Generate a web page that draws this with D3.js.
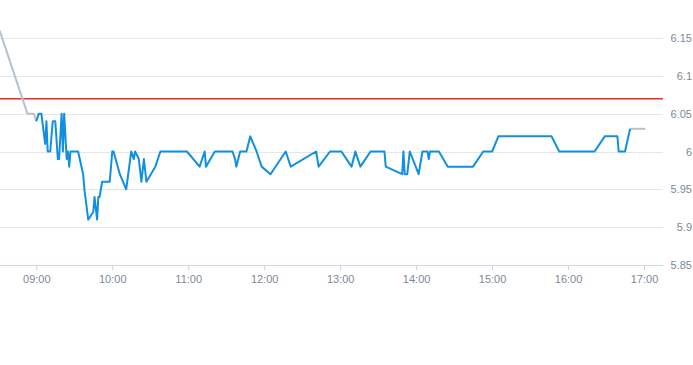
<!DOCTYPE html>
<html>
<head>
<meta charset="utf-8">
<script src="https://cdn.jsdelivr.net/npm/d3@7"></script>
<style>
  body { margin: 0; background: #fff; }
  #chart { width: 693px; height: 365px; }
  text { font-family: "Liberation Sans", Arial, sans-serif; }
</style>
</head>
<body>
<div id="chart"></div>
<script>
// pre-market (grey) segment
const preTimes = ['08:31', '08:53', '08:58', '09:00'];
const preValues = [6.16, 6.05, 6.05, 6.04];

// trading session (blue)
const mainTimes = [
    '09:00', '09:02', '09:04', '09:07', '09:08', '09:09', '09:11', '09:13', '09:15', '09:17',
    '09:18', '09:20', '09:21', '09:22', '09:24', '09:25', '09:26', '09:27', '09:33', '09:37',
    '09:38', '09:41', '09:45', '09:46', '09:48', '09:49', '09:50', '09:52', '09:58', '10:00',
    '10:01', '10:06', '10:11', '10:15', '10:17', '10:18', '10:21', '10:23', '10:25', '10:27',
    '10:34', '10:38', '10:59', '11:09', '11:13', '11:14', '11:21', '11:35', '11:37', '11:38',
    '11:41', '11:46', '11:49', '11:54', '11:58', '12:05', '12:17', '12:21', '12:41', '12:43',
    '12:52', '13:01', '13:09', '13:12', '13:16', '13:24', '13:35', '13:36', '13:49', '13:50',
    '13:51', '13:53', '13:55', '14:02', '14:05', '14:09', '14:10', '14:11', '14:18', '14:25',
    '14:45', '14:53', '15:00', '15:05', '15:47', '15:53', '16:21', '16:29', '16:39', '16:40',
    '16:45', '16:49'
];
const mainValues = [
    6.04, 6.05, 6.05, 6.01, 6.04, 6.00, 6.00, 6.04, 6.04, 5.99,
    5.99, 6.05, 6.00, 6.05, 5.99, 6.00, 5.98, 6.00, 6.00, 5.97,
    5.95, 5.91, 5.92, 5.94, 5.91, 5.94, 5.94, 5.96, 5.96, 6.00,
    6.00, 5.97, 5.95, 6.00, 5.99, 6.00, 5.99, 5.96, 5.99, 5.96,
    5.98, 6.00, 6.00, 5.98, 6.00, 5.98, 6.00, 6.00, 5.99, 5.98,
    6.00, 6.00, 6.02, 6.00, 5.98, 5.97, 6.00, 5.98, 6.00, 5.98,
    6.00, 6.00, 5.98, 6.00, 5.98, 6.00, 6.00, 5.98, 5.97, 6.00,
    5.97, 5.97, 6.00, 5.97, 6.00, 6.00, 5.99, 6.00, 6.00, 5.98,
    5.98, 6.00, 6.00, 6.02, 6.02, 6.00, 6.00, 6.02, 6.02, 6.00,
    6.00, 6.03
];

// after-hours (grey) segment
const postTimes = ['16:49', '17:01'];
const postValues = [6.03, 6.03];

// previous close reference line
const refValue = 6.07;

const yTicks = [5.85, 5.9, 5.95, 6, 6.05, 6.1, 6.15];
const yTickLabels = ['5.85', '5.9', '5.95', '6', '6.05', '6.1', '6.15'];
const xTicks = ['09:00', '10:00', '11:00', '12:00', '13:00', '14:00', '15:00', '16:00', '17:00'];

const width = 693, height = 365;
const plotRight = 663, plotTop = 38, plotBottom = 265;
const labelColor = '#7d8898';

const parse = d3.timeParse('%H:%M');
const toPoints = (ts, vs) => ts.map((t, i) => ({ t: parse(t), v: vs[i] }));

const svg = d3.select('#chart')
    .append('svg')
    .attr('width', width)
    .attr('height', height);

const x = d3.scaleTime()
    .domain([parse('09:00'), parse('17:00')])
    .range([36.3, 644]);

const y = d3.scaleLinear()
    .domain([5.85, 6.15])
    .range([plotBottom, plotTop]);

svg.append('defs').append('clipPath').attr('id', 'plot-clip')
    .append('rect')
    .attr('x', 0).attr('y', 0)
    .attr('width', plotRight).attr('height', plotBottom);

// horizontal grid
svg.append('g')
    .selectAll('line')
    .data(yTicks.slice(1))
    .enter()
    .append('line')
    .attr('x1', 0).attr('x2', plotRight)
    .attr('y1', d => Math.round(y(d)) + 0.5)
    .attr('y2', d => Math.round(y(d)) + 0.5)
    .attr('stroke', '#e6e6e6')
    .attr('stroke-width', 1);

// y labels on the right
svg.append('g')
    .selectAll('text')
    .data(yTicks)
    .enter()
    .append('text')
    .attr('x', 692)
    .attr('y', d => y(d) + 4)
    .attr('text-anchor', 'end')
    .attr('font-size', 11)
    .attr('fill', labelColor)
    .text((d, i) => yTickLabels[i]);

// x axis
const xAxis = d3.axisBottom(x)
    .tickValues(xTicks.map(parse))
    .tickFormat(d3.timeFormat('%H:%M'))
    .tickSize(5)
    .tickSizeOuter(0);

const gx = svg.append('g')
    .attr('transform', `translate(0,${plotBottom + 0.5})`)
    .call(xAxis);
gx.select('.domain').remove();
gx.append('line')
    .attr('x1', 0).attr('x2', plotRight)
    .attr('stroke', '#ccd6eb');
gx.selectAll('.tick line').attr('stroke', '#ccd6eb');
gx.selectAll('.tick text')
    .attr('y', 10)
    .attr('fill', labelColor)
    .attr('font-size', 11)
    .attr('font-family', '"Liberation Sans", Arial, sans-serif');

const line = d3.line()
    .x(d => x(d.t))
    .y(d => y(d.v));

const plot = svg.append('g').attr('clip-path', 'url(#plot-clip)');

// reference line (previous close)
plot.append('rect')
    .attr('x', 0)
    .attr('y', Math.floor(y(refValue)))
    .attr('width', plotRight)
    .attr('height', 1.5)
    .attr('fill', '#ee2a22');

plot.append('path')
    .datum(toPoints(preTimes, preValues))
    .attr('d', line)
    .attr('fill', 'none')
    .attr('stroke', '#b8c2cc')
    .attr('stroke-width', 2)
    .attr('stroke-linejoin', 'round');

plot.append('path')
    .datum(toPoints(postTimes, postValues))
    .attr('d', line)
    .attr('fill', 'none')
    .attr('stroke', '#b8c2cc')
    .attr('stroke-width', 2);

plot.append('path')
    .datum(toPoints(mainTimes, mainValues))
    .attr('d', line)
    .attr('fill', 'none')
    .attr('stroke', '#1290e0')
    .attr('stroke-width', 2)
    .attr('stroke-linejoin', 'round');
</script>
</body>
</html>
